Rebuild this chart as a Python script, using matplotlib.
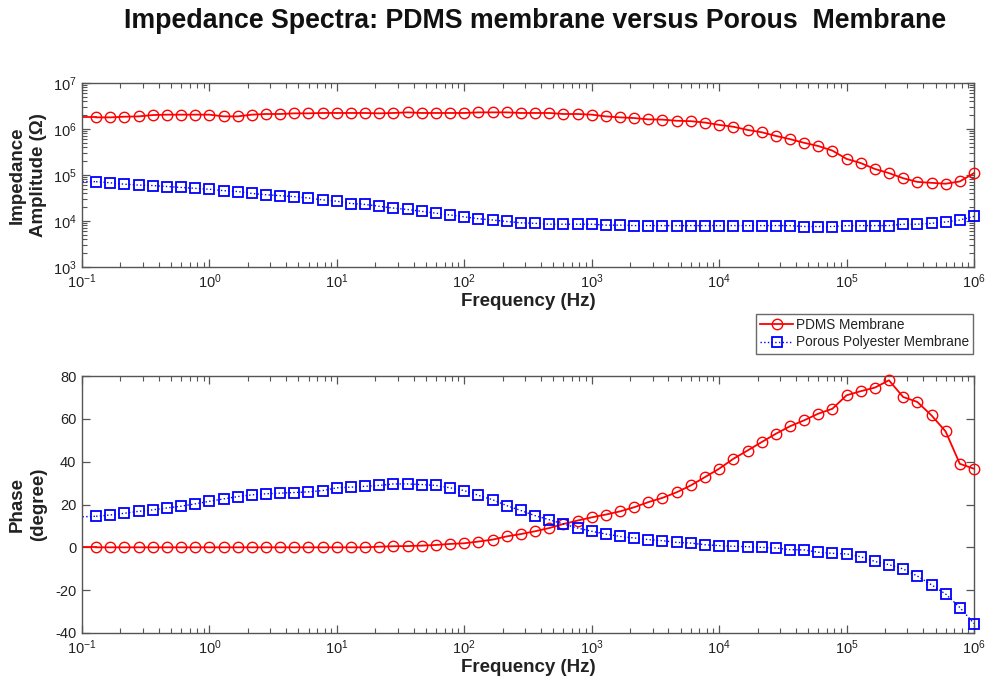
import numpy as np
import matplotlib
matplotlib.use("Agg")
import matplotlib.pyplot as plt
from matplotlib.ticker import LogLocator, MultipleLocator, NullFormatter

plt.rcParams['font.family'] = ['Liberation Sans', 'DejaVu Sans']
plt.rcParams['mathtext.fontset'] = 'custom'
plt.rcParams['mathtext.rm'] = 'Liberation Sans'
plt.rcParams['mathtext.it'] = 'Liberation Sans:italic'
plt.rcParams['mathtext.bf'] = 'Liberation Sans:bold'
plt.rcParams['axes.unicode_minus'] = False

# Frequencies (Hz); first value lies just left of the visible axis
freq = [0.0774,
        0.129, 0.167, 0.215, 0.278, 0.359, 0.464, 0.599, 0.774,
        1.0, 1.29, 1.67, 2.15, 2.78, 3.59, 4.64, 5.99, 7.74,
        10, 12.9, 16.7, 21.5, 27.8, 35.9, 46.4, 59.9, 77.4,
        100, 129, 167, 215, 278, 359, 464, 599, 774,
        1e3, 1.29e3, 1.67e3, 2.15e3, 2.78e3, 3.59e3, 4.64e3, 5.99e3, 7.74e3,
        1e4, 1.29e4, 1.67e4, 2.15e4, 2.78e4, 3.59e4, 4.64e4, 5.99e4, 7.74e4,
        1e5, 1.29e5, 1.67e5, 2.15e5, 2.78e5, 3.59e5, 4.64e5, 5.99e5, 7.74e5,
        1e6]

# Impedance amplitude (Ohm)
z_pdms = [1.79e6,
          1.79e6, 1.79e6, 1.85e6, 1.88e6, 2.01e6, 2.05e6, 2.05e6, 2.05e6,
          2.05e6, 1.88e6, 1.88e6, 2.05e6, 2.12e6, 2.12e6, 2.19e6, 2.19e6, 2.23e6,
          2.23e6, 2.23e6, 2.23e6, 2.19e6, 2.23e6, 2.30e6, 2.23e6, 2.23e6, 2.23e6,
          2.23e6, 2.30e6, 2.30e6, 2.30e6, 2.23e6, 2.23e6, 2.23e6, 2.12e6, 2.12e6,
          2.05e6, 1.88e6, 1.79e6, 1.73e6, 1.62e6, 1.60e6, 1.51e6, 1.48e6, 1.38e6,
          1.23e6, 1.12e6, 9.55e5, 8.51e5, 7.08e5, 6.03e5, 5.01e5, 4.27e5, 3.39e5,
          2.24e5, 1.82e5, 1.35e5, 1.10e5, 8.51e4, 7.08e4, 6.76e4, 6.46e4, 7.24e4,
          1.10e5]
z_porous = [7.3e4,
            7.16e4, 6.76e4, 6.31e4, 6.03e4, 5.89e4, 5.62e4, 5.37e4, 5.13e4,
            4.90e4, 4.57e4, 4.37e4, 3.98e4, 3.72e4, 3.55e4, 3.39e4, 3.16e4, 2.88e4,
            2.69e4, 2.40e4, 2.29e4, 2.09e4, 1.91e4, 1.78e4, 1.62e4, 1.48e4, 1.35e4,
            1.23e4, 1.12e4, 1.05e4, 9.77e3, 9.12e3, 8.91e3, 8.51e3, 8.51e3, 8.51e3,
            8.51e3, 8.13e3, 8.13e3, 7.94e3, 7.94e3, 7.94e3, 7.94e3, 7.94e3, 7.94e3,
            7.94e3, 7.94e3, 7.94e3, 7.94e3, 7.94e3, 7.94e3, 7.59e3, 7.59e3, 7.59e3,
            7.94e3, 7.94e3, 7.94e3, 7.94e3, 8.51e3, 8.51e3, 8.91e3, 9.55e3, 1.05e4,
            1.26e4]

# Phase (degree)
ph_pdms = [0.0,
           0, 0, 0, 0, 0, 0, 0, 0,
           0, 0, 0, 0, 0, 0, 0, 0, 0,
           0, 0, 0, 0.3, 0.5, 0.6, 0.8, 1.1, 1.6,
           1.9, 2.7, 3.6, 5.1, 6.2, 7.5, 9.0, 10.9, 12.5,
           14.0, 15.3, 16.8, 18.7, 21.1, 23.1, 25.7, 28.9, 32.8,
           36.7, 41.3, 45.2, 49.1, 53.0, 56.5, 59.3, 62.4, 64.7,
           71.0, 72.9, 74.6, 78.0, 70.2, 67.9, 61.6, 54.1, 39.0,
           36.7]
ph_porous = [14.0,
             14.5, 15.1, 15.9, 16.8, 17.5, 18.4, 19.2, 20.3,
             21.5, 22.6, 23.7, 24.5, 25.0, 25.3, 25.6, 25.9, 26.5,
             27.8, 28.1, 28.5, 28.9, 29.6, 29.6, 29.3, 28.9, 27.8,
             26.5, 24.3, 22.2, 19.5, 17.2, 14.8, 12.9, 10.9, 9.0,
             7.5, 6.2, 5.1, 4.4, 3.6, 3.1, 2.3, 2.0, 1.2,
             0.8, 0.5, 0.3, 0.0, -0.3, -1.1, -1.2, -2.3, -2.8,
             -3.1, -4.4, -6.6, -8.1, -10.1, -13.4, -17.5, -21.8, -28.1,
             -35.6]

labels = ['PDMS Membrane', 'Porous Polyester Membrane']
title = 'Impedance Spectra: PDMS membrane versus Porous  Membrane'

W, H = 987, 679
fig = plt.figure(figsize=(W / 100, H / 100), dpi=100)

def ax_rect(l, t, r, b):
    return [l / W, 1 - b / H, (r - l) / W, (b - t) / H]

ax1 = fig.add_axes(ax_rect(82, 83, 974, 267))
ax2 = fig.add_axes(ax_rect(82, 376, 974, 633))

red = '#ff0000'
blue = '#0000ff'
frame_col = '#555555'
txt_col = '#222222'

def draw(ax, y_red, y_blue):
    # leading segments from the point just outside the axis (clipped)
    ax.plot(freq[:2], y_red[:2], '-', color=red, lw=1.3, clip_on=True)
    ax.plot(freq[:2], y_blue[:2], ':', color=blue, lw=1.0, clip_on=True)
    l1, = ax.plot(freq[1:], y_red[1:], '-', color=red, lw=1.3, marker='o',
                  ms=7.5, mfc='none', mec=red, mew=1.0, clip_on=False,
                  label=labels[0], zorder=3)
    l2, = ax.plot(freq[1:], y_blue[1:], ':', color=blue, lw=1.0, marker='s',
                  ms=6.5, mfc='none', mec=blue, mew=1.3, clip_on=False,
                  label=labels[1], zorder=3)
    return l1, l2

def style(ax):
    ax.set_xscale('log')
    ax.set_xlim(0.1, 1e6)
    ax.xaxis.set_major_locator(LogLocator(base=10, numticks=20))
    ax.xaxis.set_minor_locator(LogLocator(base=10, subs=np.arange(2, 10), numticks=20))
    ax.xaxis.set_minor_formatter(NullFormatter())
    ax.tick_params(which='both', direction='in', top=True, right=True,
                   colors=frame_col, labelcolor=txt_col, labelsize=10.5)
    ax.tick_params(which='major', length=6, width=0.9)
    ax.tick_params(which='minor', length=3.5, width=0.8)
    ax.tick_params(axis='x', which='major', pad=4)
    ax.tick_params(axis='y', which='major', pad=4)
    for s in ax.spines.values():
        s.set_color(frame_col)
        s.set_linewidth(1.0)
    ax.set_xlabel('Frequency (Hz)', fontsize=13.5, fontweight='bold',
                  color=txt_col, labelpad=1)

draw(ax1, z_pdms, z_porous)
style(ax1)
ax1.set_yscale('log')
ax1.set_ylim(1e3, 1e7)
ax1.yaxis.set_major_locator(LogLocator(base=10, numticks=10))
ax1.yaxis.set_minor_locator(LogLocator(base=10, subs=np.arange(2, 10), numticks=10))
ax1.yaxis.set_minor_formatter(NullFormatter())
ax1.set_ylabel('Impedance\nAmplitude (\u03a9)', fontsize=13.5, fontweight='bold',
               color=txt_col, linespacing=1.3)
ax1.yaxis.set_label_coords(-35 / 892, 0.5)

l1, l2 = draw(ax2, ph_pdms, ph_porous)
style(ax2)
ax2.set_ylim(-40, 80)
ax2.yaxis.set_major_locator(MultipleLocator(20))
ax2.set_ylabel('Phase\n(degree)', fontsize=13.5, fontweight='bold',
               color=txt_col, linespacing=1.3)
ax2.yaxis.set_label_coords(-35 / 892, 0.5)

leg = fig.legend([l1, l2], labels, loc='upper right',
                 bbox_to_anchor=(973 / W, 1 - 314 / H), fontsize=9.8,
                 frameon=True, fancybox=False, edgecolor='#444444',
                 borderpad=0.3, handlelength=2.4, handletextpad=0.2,
                 labelspacing=0.25, borderaxespad=0)
leg.get_frame().set_linewidth(1.0)
for t in leg.get_texts():
    t.set_color(txt_col)

fig.text(535 / W, 1 - 21 / H, title, ha='center', va='center',
         fontsize=19.3, fontweight='bold', color='#111111')

fig.savefig('out.png', dpi=100)
